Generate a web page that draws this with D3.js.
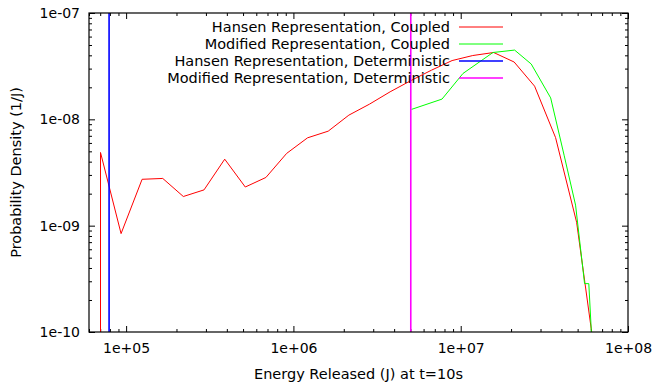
<!DOCTYPE html>
<head>
  <title>Probability density of energy released</title>
  <script src="https://d3js.org/d3.v7.min.js"></script>
  <style>
    body { margin: 0; background: #fff; }
    text { font-family: "DejaVu Sans", sans-serif; font-size: 14.5px; fill: #000; }
    .axis path, .axis line { stroke: #000; }
    .series { fill: none; }
  </style>
</head>
<body>
  <svg width="654" height="389"></svg>
  <script>
    // series: [energy (J), density (1/J)]
    const hansenCoupled = [
      [7.03e4, 1e-12], [7.03e4, 4.88e-9], [9.33e4, 8.42e-10], [1.246e5, 2.73e-9],
      [1.656e5, 2.78e-9], [2.198e5, 1.88e-9], [2.922e5, 2.17e-9], [3.885e5, 4.22e-9],
      [5.155e5, 2.31e-9], [6.85e5, 2.84e-9], [9.11e5, 4.78e-9], [1.215e6, 6.70e-9],
      [1.614e6, 7.74e-9], [2.145e6, 1.095e-8], [2.85e6, 1.39e-8], [3.785e6, 1.815e-8],
      [5.03e6, 2.31e-8], [6.69e6, 2.90e-8], [8.88e6, 3.57e-8], [1.18e7, 3.98e-8],
      [1.574e7, 4.25e-8], [2.086e7, 3.46e-8], [2.765e7, 2.05e-8], [3.69e7, 6.73e-9],
      [4.93e7, 1.076e-9], [6.49e7, 4.6e-11]
    ];
    const modifiedCoupled = [
      [5.08e6, 1.24e-8], [7.73e6, 1.55e-8], [1.032e7, 2.70e-8], [1.559e7, 4.25e-8],
      [2.10e7, 4.48e-8], [2.64e7, 3.31e-8], [3.45e7, 1.59e-8], [4.15e7, 4.60e-9],
      [4.86e7, 1.56e-9], [5.50e7, 2.85e-10], [5.83e7, 2.85e-10], [6.10e7, 7.5e-11]
    ];
    const hansenDeterministic = [[7.91e4, 1e-12], [7.91e4, 1e-6]];
    const modifiedDeterministic = [[5.03e6, 1e-12], [5.03e6, 1e-6]];

    const seriesNames = [
      "Hansen Representation, Coupled",
      "Modified Representation, Coupled",
      "Hansen Representation, Deterministic",
      "Modified Representation, Deterministic"
    ];
    const seriesColors = ["#ff0000", "#00ff00", "#0000ff", "#ff00ff"];
    const seriesWidths = [1, 1, 1.6, 1.6];
    const seriesData = [hansenCoupled, modifiedCoupled, hansenDeterministic, modifiedDeterministic];

    const xMajor = [1e5, 1e6, 1e7, 1e8];
    const yMajor = [1e-10, 1e-9, 1e-8, 1e-7];

    const svg = d3.select("svg"),
      margin = {top: 13, right: 26, bottom: 57, left: 89},
      width = +svg.attr("width") - margin.left - margin.right,
      height = +svg.attr("height") - margin.top - margin.bottom;

    const x = d3.scaleLog().domain([6e4, 1e8]).range([0, width]);
    const y = d3.scaleLog().domain([1e-10, 1e-7]).range([height, 0]);

    const g = svg.append("g").attr("transform", `translate(${margin.left},${margin.top})`);

    // minor ticks 2..9 of each decade inside the domain
    const minorOf = (dom, decades) => {
      const out = [];
      decades.forEach(d => { for (let k = 2; k <= 9; k++) { const v = d * k; if (v >= dom[0] && v <= dom[1]) out.push(v); } });
      return out;
    };
    const xMinor = minorOf(x.domain(), [1e4, 1e5, 1e6, 1e7]);
    const yMinor = minorOf(y.domain(), [1e-10, 1e-9, 1e-8]);

    const expFmt = d => {
      const e = Math.round(Math.log10(d));
      return "1e" + (e < 0 ? "-" : "+") + String(Math.abs(e)).padStart(2, "0");
    };

    // bottom + top
    g.append("g").attr("class", "axis").attr("transform", `translate(0,${height})`)
      .call(d3.axisBottom(x).tickValues(xMajor).tickFormat(expFmt).tickSizeInner(-6).tickSizeOuter(0).tickPadding(11))
      .call(a => a.select(".domain").remove());
    g.append("g").attr("class", "axis").attr("transform", `translate(0,${height})`)
      .call(d3.axisBottom(x).tickValues(xMinor).tickFormat("").tickSizeInner(-3).tickSizeOuter(0))
      .call(a => a.select(".domain").remove());
    g.append("g").attr("class", "axis")
      .call(d3.axisTop(x).tickValues(xMajor).tickFormat("").tickSizeInner(-6).tickSizeOuter(0))
      .call(a => a.select(".domain").remove());
    g.append("g").attr("class", "axis")
      .call(d3.axisTop(x).tickValues(xMinor).tickFormat("").tickSizeInner(-3).tickSizeOuter(0))
      .call(a => a.select(".domain").remove());

    // left + right
    g.append("g").attr("class", "axis")
      .call(d3.axisLeft(y).tickValues(yMajor).tickFormat(expFmt).tickSizeInner(-6).tickSizeOuter(0).tickPadding(9))
      .call(a => a.select(".domain").remove());
    g.append("g").attr("class", "axis")
      .call(d3.axisLeft(y).tickValues(yMinor).tickFormat("").tickSizeInner(-3).tickSizeOuter(0))
      .call(a => a.select(".domain").remove());
    g.append("g").attr("class", "axis").attr("transform", `translate(${width},0)`)
      .call(d3.axisRight(y).tickValues(yMajor).tickFormat("").tickSizeInner(-6).tickSizeOuter(0))
      .call(a => a.select(".domain").remove());
    g.append("g").attr("class", "axis").attr("transform", `translate(${width},0)`)
      .call(d3.axisRight(y).tickValues(yMinor).tickFormat("").tickSizeInner(-3).tickSizeOuter(0))
      .call(a => a.select(".domain").remove());

    svg.selectAll(".axis text").style("font-size", "14px").style("font-family", "DejaVu Sans, sans-serif");

    // clip for series
    svg.append("defs").append("clipPath").attr("id", "plot")
      .append("rect").attr("width", width).attr("height", height);

    const line = d3.line().x(d => x(d[0])).y(d => y(d[1]));

    g.append("g").attr("clip-path", "url(#plot)")
      .selectAll("path").data(seriesData).enter().append("path")
      .attr("class", "series")
      .attr("d", line)
      .attr("stroke", (d, i) => seriesColors[i])
      .attr("stroke-width", (d, i) => seriesWidths[i]);

    // key
    const key = g.append("g").attr("transform", "translate(361,14)");
    seriesNames.forEach((name, i) => {
      const row = key.append("g").attr("transform", `translate(0,${i * 17})`);
      row.append("text").attr("text-anchor", "end").attr("dy", "0.35em").text(name);
      row.append("line").attr("x1", 9).attr("x2", 53).attr("y1", 0).attr("y2", 0)
        .attr("stroke", seriesColors[i]).attr("stroke-width", seriesWidths[i]);
    });

    // frame
    g.append("rect").attr("width", width).attr("height", height)
      .attr("fill", "none").attr("stroke", "#000").attr("stroke-width", 1.2);

    // axis titles
    svg.append("text").attr("x", margin.left + width / 2).attr("y", 379)
      .attr("text-anchor", "middle").text("Energy Released (J) at t=10s");
    svg.append("text").attr("transform", `translate(21,${margin.top + height / 2}) rotate(-90)`)
      .attr("text-anchor", "middle").text("Probability Density (1/J)");
  </script>
</body>
